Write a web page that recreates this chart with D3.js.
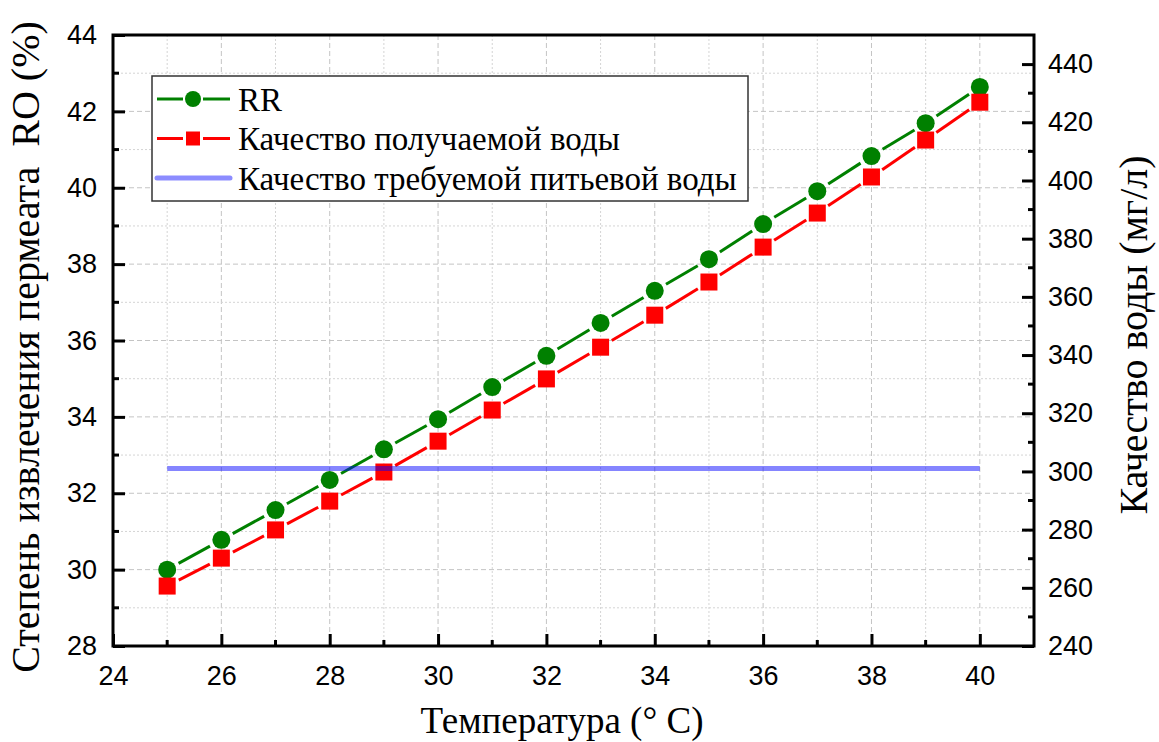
<!DOCTYPE html>
<html>
<head>
<meta charset="utf-8">
<script src="https://cdn.jsdelivr.net/npm/d3@7"></script>
<style>
  body { margin: 0; background: #fff; }
  svg { display: block; }
</style>
</head>
<body>
<div id="chart"></div>
<script>
/* ######################## data ###############*/
var temperature = [25, 26, 27, 28, 29, 30, 31, 32, 33, 34, 35, 36, 37, 38, 39, 40];
// RR, left axis (%)
var recoveryRate = [30.0, 30.78, 31.56, 32.35, 33.15, 33.94, 34.78, 35.6, 36.46, 37.3, 38.13, 39.05, 39.91, 40.83, 41.69, 42.64];
// product water quality, right axis (mg/l)
var waterQuality = [260.6, 270.2, 279.9, 289.8, 299.8, 310.4, 321.1, 331.8, 342.7, 353.7, 365.1, 377.1, 388.8, 401.2, 413.9, 426.9];
// required drinking water quality
var drinkingLimit = 301;

var xTicks = [24, 26, 28, 30, 32, 34, 36, 38, 40];
var leftTicks = [28, 30, 32, 34, 36, 38, 40, 42, 44];
var rightTicks = [240, 260, 280, 300, 320, 340, 360, 380, 400, 420, 440];

var legendLabels = ["RR", "Качество получаемой воды", "Качество требуемой питьевой воды"];
/* ####################################################################*/

var W = 1159, H = 742;
var margin = {top: 35, right: 125, bottom: 96, left: 113};
var w = W - margin.left - margin.right;
var h = H - margin.top - margin.bottom;

var serif = "'Liberation Serif', 'Times New Roman', serif";
var sans = "'Liberation Sans', Arial, sans-serif";

var green = "#008000", red = "#ff0000", blue = "#0000ff";

var svg = d3.select("#chart").append("svg")
  .attr("width", W)
  .attr("height", H);

var g = svg.append("g")
  .attr("transform", "translate(" + margin.left + "," + margin.top + ")");

var x = d3.scaleLinear().domain([24, 41]).range([0, w]);
var yL = d3.scaleLinear().domain([28, 44]).range([h, 0]);
var yR = d3.scaleLinear().domain([240, 450]).range([h, 0]);

// grid: dashed on major, dotted on minor
var xGrid = d3.range(25, 41, 1);
var yGrid = d3.range(29, 44, 1);

g.append("g").selectAll("line")
  .data(xGrid)
  .enter().append("line")
  .attr("x1", function(d) { return x(d); })
  .attr("x2", function(d) { return x(d); })
  .attr("y1", 0)
  .attr("y2", h)
  .attr("stroke", function(d) { return d % 2 == 0 ? "#c4c4c4" : "#d4d4d4"; })
  .attr("stroke-width", 1)
  .attr("stroke-dasharray", function(d) { return d % 2 == 0 ? "5,3" : "2,2"; });

g.append("g").selectAll("line")
  .data(yGrid)
  .enter().append("line")
  .attr("x1", 0)
  .attr("x2", w)
  .attr("y1", function(d) { return yL(d); })
  .attr("y2", function(d) { return yL(d); })
  .attr("stroke", function(d) { return d % 2 == 0 ? "#c4c4c4" : "#d4d4d4"; })
  .attr("stroke-width", 1)
  .attr("stroke-dasharray", function(d) { return d % 2 == 0 ? "5,3" : "2,2"; });

// segments between markers with a little gap (origin style)
function gappedSegments(xs, ys, gap) {
  var segs = [];
  for (var i = 0; i < xs.length - 1; i++) {
    var dx = xs[i + 1] - xs[i], dy = ys[i + 1] - ys[i];
    var len = Math.sqrt(dx * dx + dy * dy);
    var ux = dx / len, uy = dy / len;
    segs.push({
      x1: xs[i] + ux * gap, y1: ys[i] + uy * gap,
      x2: xs[i + 1] - ux * gap, y2: ys[i + 1] - uy * gap
    });
  }
  return segs;
}

var px = temperature.map(function(d) { return x(d); });
var pyG = recoveryRate.map(function(d) { return yL(d); });
var pyR = waterQuality.map(function(d) { return yR(d); });

g.append("g").selectAll("line")
  .data(gappedSegments(px, pyG, 13))
  .enter().append("line")
  .attr("x1", function(d) { return d.x1; })
  .attr("y1", function(d) { return d.y1; })
  .attr("x2", function(d) { return d.x2; })
  .attr("y2", function(d) { return d.y2; })
  .attr("stroke", green)
  .attr("stroke-width", 3);

g.append("g").selectAll("line")
  .data(gappedSegments(px, pyR, 13))
  .enter().append("line")
  .attr("x1", function(d) { return d.x1; })
  .attr("y1", function(d) { return d.y1; })
  .attr("x2", function(d) { return d.x2; })
  .attr("y2", function(d) { return d.y2; })
  .attr("stroke", red)
  .attr("stroke-width", 3);

g.append("g").selectAll("circle")
  .data(temperature)
  .enter().append("circle")
  .attr("cx", function(d, i) { return px[i]; })
  .attr("cy", function(d, i) { return pyG[i]; })
  .attr("r", 9)
  .attr("fill", green);

g.append("g").selectAll("rect")
  .data(temperature)
  .enter().append("rect")
  .attr("x", function(d, i) { return px[i] - 8.5; })
  .attr("y", function(d, i) { return pyR[i] - 8.5; })
  .attr("width", 17)
  .attr("height", 17)
  .attr("fill", red);

// drinking water limit, translucent on top
g.append("line")
  .attr("x1", x(temperature[0]))
  .attr("x2", x(temperature[temperature.length - 1]))
  .attr("y1", yR(drinkingLimit))
  .attr("y2", yR(drinkingLimit))
  .attr("stroke", blue)
  .attr("stroke-opacity", 0.48)
  .attr("stroke-width", 5);

// axes
function styleAxis(sel) {
  sel.select(".domain").remove();
  sel.selectAll(".tick line").attr("stroke", "#000").attr("stroke-width", 3);
  sel.selectAll(".tick text")
    .attr("font-family", sans)
    .attr("font-size", 27)
    .attr("fill", "#000");
}

function minorTicks(sel, scale, values, orient, len) {
  sel.selectAll("line.minor")
    .data(values)
    .enter().append("line")
    .attr("class", "minor")
    .attr("stroke", "#000")
    .attr("stroke-width", 3)
    .attr("x1", function(d) { return orient == "x" ? scale(d) : 0; })
    .attr("x2", function(d) { return orient == "x" ? scale(d) : len; })
    .attr("y1", function(d) { return orient == "x" ? 0 : scale(d); })
    .attr("y2", function(d) { return orient == "x" ? len : scale(d); });
}

var xAxis = g.append("g")
  .attr("transform", "translate(0," + h + ")")
  .call(d3.axisBottom(x).tickValues(xTicks).tickSizeInner(-12).tickPadding(20));
styleAxis(xAxis);
minorTicks(xAxis, x, d3.range(25, 41, 2), "x", -6);

var leftAxis = g.append("g")
  .call(d3.axisLeft(yL).tickValues(leftTicks).tickSizeInner(-12).tickPadding(16));
styleAxis(leftAxis);
minorTicks(leftAxis, yL, d3.range(29, 44, 2), "y", 6);

var rightAxis = g.append("g")
  .attr("transform", "translate(" + w + ",0)")
  .call(d3.axisRight(yR).tickValues(rightTicks).tickSizeInner(-12).tickPadding(14));
styleAxis(rightAxis);
minorTicks(rightAxis, yR, d3.range(250, 450, 20), "y", -6);

// frame
g.append("rect")
  .attr("x", 0)
  .attr("y", 0)
  .attr("width", w)
  .attr("height", h)
  .attr("fill", "none")
  .attr("stroke", "#000")
  .attr("stroke-width", 3);

// axis titles
svg.append("text")
  .attr("x", 562)
  .attr("y", 733)
  .attr("text-anchor", "middle")
  .attr("font-family", serif)
  .attr("font-size", 37)
  .text("Температура (° C)");

svg.append("text")
  .attr("transform", "translate(39,347) rotate(-90)")
  .attr("text-anchor", "middle")
  .attr("font-family", serif)
  .attr("font-size", 40)
  .style("white-space", "pre")
  .text("Степень извлечения пермеата  RO (%)");

svg.append("text")
  .attr("transform", "translate(1147,335) rotate(-90)")
  .attr("text-anchor", "middle")
  .attr("font-family", serif)
  .attr("font-size", 40)
  .text("Качество воды (мг/л)");

// legend
var legend = svg.append("g").attr("transform", "translate(152,76)");
legend.append("rect")
  .attr("width", 596)
  .attr("height", 125)
  .attr("fill", "#fff")
  .attr("stroke", "#333")
  .attr("stroke-width", 1.5);

var rows = legend.selectAll("g.row")
  .data(legendLabels)
  .enter().append("g")
  .attr("class", "row")
  .attr("transform", function(d, i) { return "translate(0," + (23 + i * 39.5) + ")"; });

rows.each(function(d, i) {
  var r = d3.select(this);
  if (i < 2) {
    var col = i == 0 ? green : red;
    r.append("line").attr("x1", 5).attr("x2", 31).attr("stroke", col).attr("stroke-width", 3);
    r.append("line").attr("x1", 51).attr("x2", 78).attr("stroke", col).attr("stroke-width", 3);
    if (i == 0) {
      r.append("circle").attr("cx", 41).attr("r", 8).attr("fill", green);
    } else {
      r.append("rect").attr("x", 34).attr("y", -7).attr("width", 14).attr("height", 14).attr("fill", red);
    }
  } else {
    r.append("line").attr("x1", 5).attr("x2", 78)
      .attr("stroke", blue).attr("stroke-opacity", 0.45)
      .attr("stroke-width", 5).attr("stroke-linecap", "round");
  }
  r.append("text")
    .attr("x", 86)
    .attr("dy", "0.35em")
    .attr("font-family", serif)
    .attr("font-size", 33)
    .text(d);
});
</script>
</body>
</html>
